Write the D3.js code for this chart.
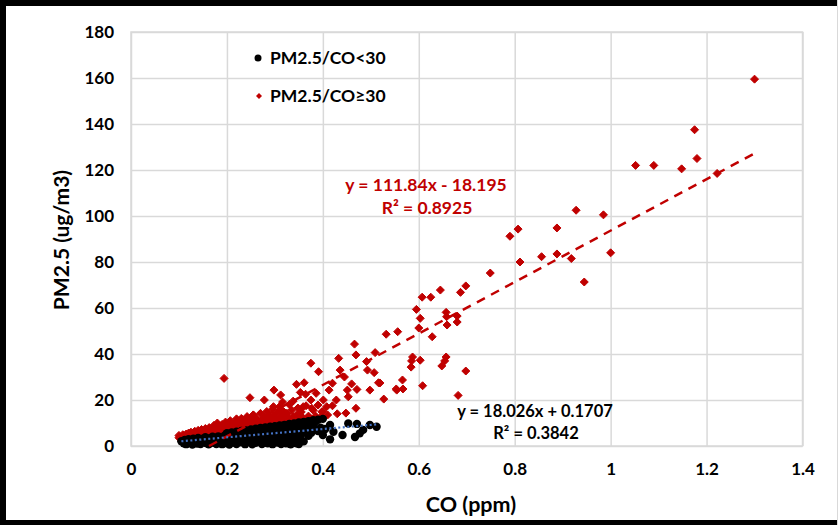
<!DOCTYPE html>
<html><head><meta charset="utf-8">
<script src="https://cdn.jsdelivr.net/npm/d3@7"></script>
<style>
html,body{margin:0;padding:0;background:#fff;}
svg text{font-family:Lato,"Open Sans",sans-serif;font-weight:700;}
</style></head>
<body><svg id="c" width="838" height="525"></svg>
<script>
// ---- data ----
const seriesNames = ["PM2.5/CO<30", "PM2.5/CO\u226530"];
const xTicks = [0, 0.2, 0.4, 0.6, 0.8, 1, 1.2, 1.4];
const xTickLabels = ["0", "0.2", "0.4", "0.6", "0.8", "1", "1.2", "1.4"];
const yTicks = [0, 20, 40, 60, 80, 100, 120, 140, 160, 180];
const yTickLabels = ["0", "20", "40", "60", "80", "100", "120", "140", "160", "180"];
const lowSeries = [ // PM2.5/CO<30  [CO, PM2.5]
[0.105,2.1],[0.11,1.2],[0.112,2.6],[0.115,0.8],[0.118,1.9],[0.12,3.0],[0.123,1.4],[0.125,2.4],[0.128,0.6],[0.13,3.2],
[0.133,1.8],[0.135,2.7],[0.138,1.1],[0.14,3.5],[0.142,2.2],[0.145,0.9],[0.148,3.1],[0.15,1.6],[0.152,2.6],[0.155,3.8],
[0.158,1.2],[0.16,2.9],[0.162,0.7],[0.165,3.4],[0.168,2.0],[0.17,4.0],[0.172,1.4],[0.175,3.0],[0.178,0.9],[0.18,2.4],
[0.182,4.2],[0.185,1.7],[0.188,3.3],[0.19,0.8],[0.192,2.7],[0.195,4.5],[0.198,1.3],[0.2,3.6],[0.203,2.1],[0.205,0.6],
[0.208,4.1],[0.21,2.8],[0.213,1.5],[0.215,4.7],[0.218,3.2],[0.22,0.9],[0.223,2.3],[0.225,5.0],[0.228,3.8],[0.23,1.6],
[0.233,4.4],[0.235,2.6],[0.238,0.8],[0.24,5.3],[0.243,3.5],[0.245,1.9],[0.248,4.8],[0.25,2.8],[0.253,0.7],[0.255,5.6],
[0.258,3.9],[0.26,1.4],[0.263,4.6],[0.265,2.4],[0.268,6.0],[0.27,3.3],[0.273,0.9],[0.275,5.2],[0.278,2.0],[0.28,4.3],
[0.283,6.3],[0.285,1.2],[0.288,3.6],[0.29,5.5],[0.293,2.6],[0.295,0.8],[0.298,4.9],[0.3,6.6],[0.303,3.1],[0.305,1.5],
[0.308,5.8],[0.31,4.0],[0.313,0.9],[0.315,6.9],[0.318,2.4],[0.32,5.0],[0.323,1.2],[0.325,7.2],[0.328,3.6],[0.33,6.1],
[0.333,0.7],[0.335,4.5],[0.338,7.5],[0.34,2.8],[0.343,5.6],[0.345,1.2],[0.348,6.8],[0.35,3.9],[0.353,7.9],[0.355,5.0],
[0.36,2.0],[0.363,6.4],[0.366,8.2],[0.37,4.4],[0.373,7.0],[0.376,5.8],[0.38,8.6],[0.384,10.6],[0.39,6.5],[0.395,8.0],
[0.40,4.8],[0.405,7.4],[0.415,9.1],[0.415,2.9],[0.422,6.2],[0.441,4.8],[0.453,9.8],[0.467,3.9],[0.471,9.6],[0.477,5.5],
[0.484,7.0],[0.498,9.1],[0.512,8.4],
[0.2,5.6],[0.21,5.9],[0.22,6.2],[0.23,6.5],[0.24,6.8],[0.25,7.2],[0.26,7.5],[0.27,7.8],[0.28,8.1],[0.29,8.4],
[0.3,8.6],[0.31,8.9],[0.32,9.2],[0.33,9.6],[0.34,9.8],[0.35,10.2],[0.36,10.5],[0.37,10.8],[0.38,11.2],[0.39,11.4],
[0.4,11.8],[0.36,9.0],[0.34,8.6],[0.32,7.8],[0.3,7.5],[0.28,7.0],[0.26,6.5],[0.33,1.1],[0.35,0.9],[0.31,1.8]
];
const highSeries = [ // PM2.5/CO>=30  [CO, PM2.5]
[0.10,3.6],[0.10,4.6],[0.102,4.0],[0.105,3.3],[0.108,4.9],[0.11,3.6],[0.112,4.3],[0.115,5.2],[0.115,3.6],[0.118,4.5],
[0.12,3.8],[0.12,5.6],[0.123,4.2],[0.125,6.0],[0.127,4.8],[0.13,4.0],[0.13,5.4],[0.133,6.4],[0.135,4.3],[0.137,5.0],
[0.14,6.8],[0.14,4.4],[0.143,5.8],[0.145,4.6],[0.147,7.2],[0.15,5.2],[0.15,6.3],[0.153,4.7],[0.155,7.6],[0.157,5.6],
[0.16,6.8],[0.16,4.9],[0.163,8.0],[0.165,5.3],[0.167,6.2],[0.17,7.3],[0.17,5.2],[0.173,9.0],[0.175,6.0],[0.177,7.9],
[0.18,5.5],[0.18,10.0],[0.183,6.6],[0.185,8.5],[0.187,5.7],[0.19,7.3],[0.19,9.4],[0.193,6.1],[0.195,8.0],[0.197,10.4],
[0.2,6.3],[0.2,7.6],[0.203,9.0],[0.205,6.5],[0.207,11.0],[0.21,8.2],[0.212,6.6],[0.215,9.6],[0.217,7.4],[0.22,11.8],
[0.22,6.8],[0.223,8.6],[0.225,10.2],[0.228,7.2],[0.23,12.0],[0.232,9.0],[0.235,7.3],[0.237,10.8],[0.24,8.0],[0.242,12.8],
[0.245,9.4],[0.247,7.6],[0.25,11.2],[0.252,8.3],[0.255,13.5],[0.257,9.8],[0.26,8.0],[0.262,12.0],[0.265,10.4],[0.268,8.2],
[0.27,14.2],[0.272,11.0],[0.275,8.5],[0.278,12.6],[0.28,9.6],[0.283,15.0],[0.285,11.4],[0.288,8.8],[0.29,13.2],[0.293,10.2],
[0.295,16.0],[0.298,9.2],[0.3,12.0],[0.303,14.2],[0.305,9.5],[0.308,11.2],[0.31,17.2],[0.313,13.0],[0.315,10.0],[0.318,15.0],
[0.32,11.8],[0.323,9.9],[0.325,14.0],[0.328,12.2],[0.33,18.0],[0.333,10.4],[0.335,15.6],[0.338,12.8],[0.34,10.6],[0.345,13.5],
[0.348,16.5],[0.35,11.5],[0.355,14.8],[0.36,12.0],[0.365,17.5],[0.37,13.0],[0.375,11.8],[0.38,15.5],[0.385,13.0],[0.39,17.8],
[0.395,12.5],[0.40,15.0],[0.41,13.5],[0.42,17.5],[0.43,14.0],
[0.194,29.4],[0.248,21.0],[0.278,20.0],[0.298,24.3],[0.312,22.2],[0.316,19.1],[0.345,26.8],[0.361,27.5],[0.353,23.3],[0.375,36.0],
[0.391,32.3],[0.364,22.5],[0.375,20.0],[0.386,22.9],[0.413,24.3],[0.401,20.0],[0.408,17.1],[0.398,14.9],[0.428,20.0],[0.433,38.1],
[0.436,33.0],[0.453,21.4],[0.451,24.3],[0.466,44.3],[0.469,39.6],[0.471,24.6],[0.469,16.4],[0.448,14.3],[0.491,36.7],[0.493,33.0],
[0.498,24.3],[0.509,40.6],[0.507,31.9],[0.516,27.5],[0.527,20.4],[0.532,48.6],[0.554,24.3],[0.556,49.7],[0.377,16.4],[0.359,17.1],
[0.352,13.5],[0.325,14.2],[0.297,12.7],[0.255,13.5],[0.297,17.1],[0.311,16.0],[0.338,19.5],[0.42,27.3],[0.445,30.0],[0.46,27.0],
[0.553,24.8],[0.567,24.8],[0.566,28.7],[0.608,26.2],[0.519,27.4],[0.584,34.3],[0.585,37.0],[0.587,38.7],[0.603,37.3],[0.648,34.8],
[0.654,37.0],[0.657,38.7],[0.698,32.6],[0.682,22.0],[0.6,51.3],[0.628,47.5],[0.659,52.6],[0.68,53.9],[0.68,56.5],[0.658,56.2],
[0.603,55.5],[0.657,58.1],[0.595,59.4],[0.607,64.7],[0.625,64.7],[0.645,67.8],[0.687,66.8],[0.698,69.6],[0.749,75.2],[0.811,80.0],
[0.79,91.2],[0.807,94.3],[0.856,82.3],[0.888,83.5],[0.888,94.8],[0.945,71.3],[0.918,81.5],[0.928,102.5],[1.0,84.0],[0.985,100.5],
[1.052,122.0],[1.09,122.0],[1.148,120.5],[1.222,118.5],[1.18,125.0],[1.175,137.5],[1.30,159.5]
];
const lowFit = {slope: 18.026, intercept: 0.1707, xMin: 0.105, xMax: 0.512, eq: "y = 18.026x + 0.1707", r2: "R\u00b2 = 0.3842"};
const highFit = {slope: 111.84, intercept: -18.195, xMin: 0.10, xMax: 1.30, eq: "y = 111.84x - 18.195", r2: "R\u00b2 = 0.8925"};

// ---- drawing ----
const svg = d3.select("#c");
const PL = 131, PR = 802.5, PT = 32, PB = 446;
const x = d3.scaleLinear().domain([0, 1.4]).range([PL, PR]);
const y = d3.scaleLinear().domain([0, 180]).range([PB, PT]);
const RED = "#C00000";

svg.append("rect").attr("width", 838).attr("height", 525).attr("fill", "#fff");

// grid + x axis
const gx = svg.append("g").attr("transform", `translate(0,${PB})`)
  .call(d3.axisBottom(x).tickValues(xTicks).tickFormat((d, i) => xTickLabels[i])
    .tickSize(-(PB - PT)).tickPadding(17));
gx.select(".domain").remove();
gx.selectAll("line").attr("stroke", "#D9D9D9").attr("stroke-width", 1.5);
gx.selectAll("text").attr("font-size", 17).attr("fill", "#000");

const gy = svg.append("g").attr("transform", `translate(${PL},0)`)
  .call(d3.axisLeft(y).tickValues(yTicks).tickFormat((d, i) => yTickLabels[i])
    .tickSize(-(PR - PL)).tickPadding(17));
gy.select(".domain").remove();
gy.selectAll("line").attr("stroke", "#D9D9D9").attr("stroke-width", 1.5);
gy.selectAll("text").attr("font-size", 17).attr("fill", "#000");

svg.append("rect").attr("x", PL).attr("y", PT).attr("width", PR - PL).attr("height", PB - PT)
  .attr("fill", "none").attr("stroke", "#D9D9D9").attr("stroke-width", 1.5);

// markers
const diamond = r => `M0,${-r}L${r},0L0,${r}L${-r},0Z`;
svg.append("g").selectAll("path").data(highSeries).join("path")
  .attr("d", diamond(4)).attr("transform", d => `translate(${x(d[0])},${y(d[1])})`)
  .attr("fill", RED).attr("stroke", RED).attr("stroke-width", 1).attr("stroke-linejoin", "round");
svg.append("g").selectAll("circle").data(lowSeries).join("circle")
  .attr("cx", d => x(d[0])).attr("cy", d => y(d[1])).attr("r", 4.2).attr("fill", "#000");

// trendlines
function fitLine(f) {
  let x0 = f.xMin;
  const yAt = v => f.slope * v + f.intercept;
  if (yAt(x0) < 0) x0 = -f.intercept / f.slope;
  return [[x0, yAt(x0)], [f.xMax, yAt(f.xMax)]];
}
const line = d3.line().x(d => x(d[0])).y(d => y(d[1]));
svg.append("path").attr("d", line(fitLine(highFit))).attr("stroke", RED).attr("stroke-width", 2.5)
  .attr("stroke-dasharray", "9,7").attr("fill", "none");
svg.append("path").attr("d", line(fitLine(lowFit))).attr("stroke", "#4472C4").attr("stroke-width", 2.2)
  .attr("stroke-dasharray", "2,2.5").attr("fill", "none");

// equations
svg.append("text").attr("x", 426).attr("y", 191).attr("text-anchor", "middle").attr("font-size", 17.5)
  .attr("fill", RED).text(highFit.eq);
svg.append("text").attr("x", 427).attr("y", 214).attr("text-anchor", "middle").attr("font-size", 17.5)
  .attr("fill", RED).text(highFit.r2);
svg.append("text").attr("x", 535).attr("y", 417).attr("text-anchor", "middle").attr("font-size", 16.5)
  .attr("fill", "#000").text(lowFit.eq);
svg.append("text").attr("x", 536).attr("y", 439).attr("text-anchor", "middle").attr("font-size", 16.5)
  .attr("fill", "#000").text(lowFit.r2);

// legend
const lg = svg.append("g");
lg.append("circle").attr("cx", 258).attr("cy", 58).attr("r", 3.5).attr("fill", "#000");
lg.append("text").attr("x", 270).attr("y", 64).attr("font-size", 17.5).attr("fill", "#000").text(seriesNames[0]);
lg.append("path").attr("d", diamond(3)).attr("transform", "translate(259,96)").attr("fill", RED);
lg.append("text").attr("x", 270).attr("y", 102).attr("font-size", 17.5).attr("fill", "#000").text(seriesNames[1]);

// axis titles
svg.append("text").attr("x", 471).attr("y", 512).attr("text-anchor", "middle").attr("font-size", 21.5)
  .attr("fill", "#000").text("CO (ppm)");
svg.append("text").attr("transform", "translate(69,240) rotate(-90)").attr("text-anchor", "middle")
  .attr("font-size", 21).attr("fill", "#000").text("PM2.5 (ug/m3)");

// outer frame
svg.append("line").attr("x1", 0).attr("x2", 838).attr("y1", 3).attr("y2", 3).attr("stroke", "#000").attr("stroke-width", 6);
svg.append("line").attr("x1", 3).attr("x2", 3).attr("y1", 0).attr("y2", 525).attr("stroke", "#000").attr("stroke-width", 6);
svg.append("line").attr("x1", 0).attr("x2", 838).attr("y1", 522.5).attr("y2", 522.5).attr("stroke", "#000").attr("stroke-width", 5);
svg.append("line").attr("x1", 837.5).attr("x2", 837.5).attr("y1", 0).attr("y2", 525).attr("stroke", "#D9D9D9").attr("stroke-width", 1);
</script></body></html>
